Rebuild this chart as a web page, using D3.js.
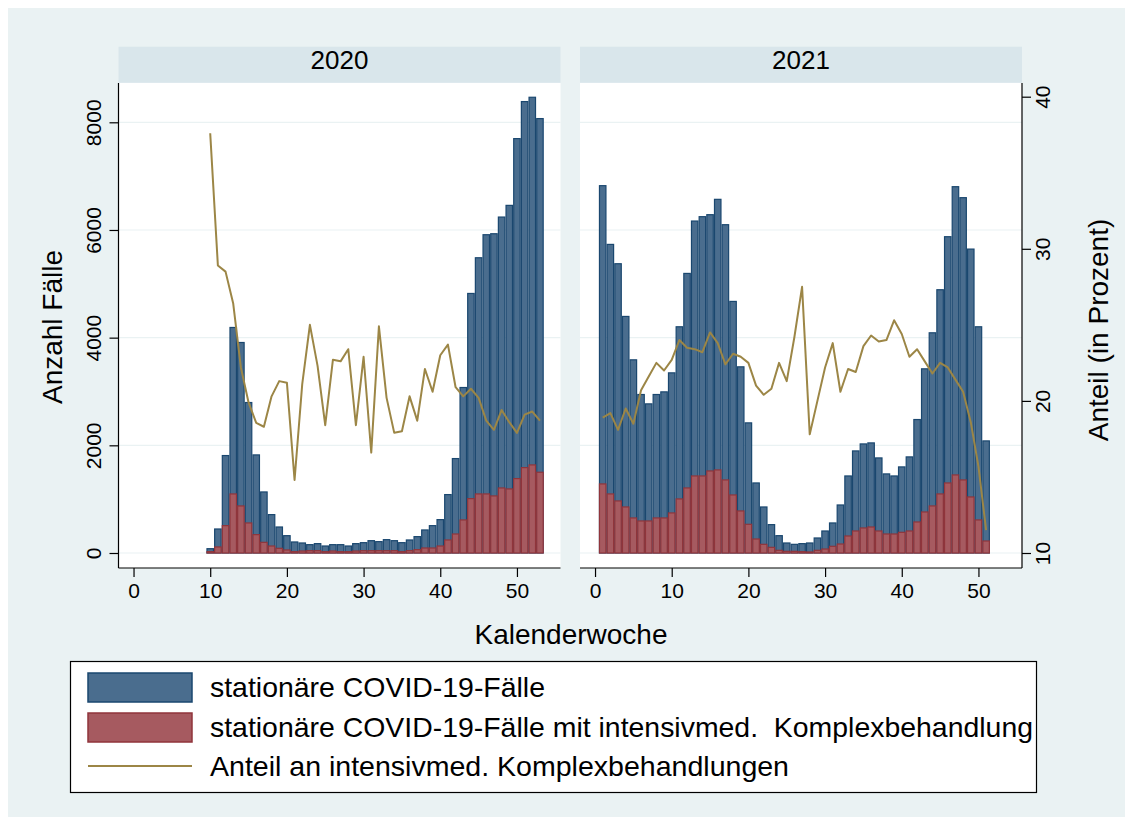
<!DOCTYPE html>
<html>
<head>
<meta charset="utf-8">
<script src="https://cdn.jsdelivr.net/npm/d3@7"></script>
<style>
  body { margin: 0; background: #fff; }
  svg text { font-family: "Liberation Sans", Arial, sans-serif; fill: #000; white-space: pre; }
</style>
</head>
<body>
<svg id="chart" width="1133" height="825"></svg>
<script>
// calendar weeks
var weeks2020 = d3.range(10, 54);
var weeks2021 = d3.range(1, 52);

// hospitalised COVID-19 cases per week
var cases2020 = [80, 446, 1810, 4189, 3910, 2795, 1822, 1134, 713, 483, 322, 205, 186, 155, 174, 130, 155, 155, 130, 174,
  192, 229, 211, 248, 229, 192, 242, 304, 428, 508, 620, 1085, 1754, 3074, 4821, 5484, 5912, 5930, 6240, 6457,
  7697, 8385, 8465, 8069];
var cases2021 = [6823, 5732, 5373, 4394, 3588, 2944, 2770, 2944, 2993, 3346, 4202, 5193, 6166, 6247, 6284, 6569, 6098,
  4673, 3458, 2417, 1301, 855, 527, 322, 186, 161, 174, 186, 279, 409, 558, 892, 1431, 1896, 2026, 2045, 1766,
  1469, 1431, 1599, 1785, 2479, 3421, 4090, 4890, 5875, 6804, 6600, 5645, 4202, 2082];

// of which with intensive-care complex treatment
var icu2020 = [25, 112, 508, 1097, 874, 558, 341, 198, 130, 87, 56, 25, 37, 43, 43, 25, 37, 25, 25, 37,
  43, 43, 43, 43, 43, 25, 43, 62, 93, 93, 130, 242, 353, 614, 1010, 1097, 1097, 1060, 1208, 1190,
  1382, 1586, 1636, 1500];
var icu2021 = [1283, 1097, 967, 855, 651, 595, 595, 651, 651, 744, 1004, 1208, 1431, 1431, 1524, 1543, 1357,
  1078, 781, 533, 260, 161, 105, 50, 31, 31, 25, 19, 50, 74, 124, 167, 316, 409, 465, 483, 409,
  353, 353, 384, 409, 576, 762, 874, 1097, 1301, 1450, 1357, 1041, 614, 223];

// share with ICU treatment (percent)
var share2020 = [37.6, 28.9, 28.5, 26.4, 22.2, 19.9, 18.55, 18.3, 20.3, 21.3, 21.2, 14.8, 21.1, 25.0, 22.3, 18.4, 22.7,
  22.6, 23.4, 18.4, 22.9, 16.6, 24.9, 20.2, 17.9, 18.0, 20.3, 18.7, 22.1, 20.6, 23.0, 23.7, 20.9, 20.3, 20.8,
  20.2, 18.7, 18.1, 19.4, 18.6, 17.9, 19.1, 19.3, 18.7];
var share2021 = [18.9, 19.2, 18.1, 19.5, 18.5, 20.7, 21.6, 22.5, 22.0, 22.7, 24.0, 23.5, 23.4, 23.2, 24.5, 23.8, 22.4,
  23.1, 22.9, 22.5, 21.0, 20.4, 20.8, 22.5, 21.3, 24.2, 27.5, 17.8, 20.0, 22.2, 23.8, 20.6, 22.1, 21.9, 23.6,
  24.3, 23.9, 24.0, 25.3, 24.4, 22.9, 23.4, 22.6, 21.8, 22.5, 22.2, 21.4, 20.6, 18.6, 15.7, 11.5];

var yearLabels = ["2020", "2021"];
var xTicks = [0, 10, 20, 30, 40, 50];
var yTicks = [0, 2000, 4000, 6000, 8000];
var shareTicks = [10, 20, 30, 40];
var legendLabels = ["stationäre COVID-19-Fälle",
  "stationäre COVID-19-Fälle mit intensivmed.  Komplexbehandlung",
  "Anteil an intensivmed. Komplexbehandlungen"];

var COLORS = {
  bg: "#eaf2f3", strip: "#d9e6eb", grid: "#eaf2f3",
  blueFill: "#4a6d8e", blueLine: "#1a476f",
  redFill: "#a65a60", redLine: "#90353b",
  share: "#9c8646"
};

var svg = d3.select("#chart");
svg.append("rect").attr("x", 8).attr("y", 8).attr("width", 1117).attr("height", 809).attr("fill", COLORS.bg);

var PLOT_TOP = 83, PLOT_BOTTOM = 568, PANEL_W = 442;
var panels = [
  { left: 118.5, year: yearLabels[0], weeks: weeks2020, cases: cases2020, icu: icu2020, share: share2020 },
  { left: 580, year: yearLabels[1], weeks: weeks2021, cases: cases2021, icu: icu2021, share: share2021 }
];

var y = d3.scaleLinear().domain([0, 8000]).range([553, 122.3]);
var yShare = d3.scaleLinear().domain([10, 40]).range([553, 96.7]);

function styleTicks(sel) {
    sel.selectAll(".tick line").attr("stroke", "#000").attr("stroke-width", 1.2);
    sel.selectAll(".tick text").attr("font-family", null).attr("fill", "#000").style("font-size", "21px");
}

panels.forEach(function (p, pi) {
    var x = d3.scaleLinear().domain([-1.96, 55.68]).range([p.left, p.left + PANEL_W]);
    var g = svg.append("g");

    // strip
    g.append("rect").attr("x", p.left).attr("y", 46.7).attr("width", PANEL_W).attr("height", 36)
     .attr("fill", COLORS.strip);
    g.append("text").attr("x", p.left + PANEL_W / 2).attr("y", 59.5)
     .attr("text-anchor", "middle").attr("dominant-baseline", "central")
     .style("font-size", "26px").text(p.year);

    // plot area
    g.append("rect").attr("x", p.left).attr("y", PLOT_TOP).attr("width", PANEL_W)
     .attr("height", PLOT_BOTTOM - PLOT_TOP).attr("fill", "#fff");

    // gridlines
    g.selectAll(".grid").data(yTicks).enter().append("line")
     .attr("x1", p.left).attr("x2", p.left + PANEL_W)
     .attr("y1", function (d) { return y(d); }).attr("y2", function (d) { return y(d); })
     .attr("stroke", COLORS.grid).attr("stroke-width", 1.2);

    var bw = x(1) - x(0);
    // total cases
    g.selectAll(".bar").data(p.cases).enter().append("rect")
     .attr("x", function (d, i) { return x(p.weeks[i]) - bw / 2 + 0.6; })
     .attr("width", bw - 1.2)
     .attr("y", function (d) { return y(d); })
     .attr("height", function (d) { return y(0) - y(d); })
     .attr("fill", COLORS.blueFill).attr("stroke", COLORS.blueLine).attr("stroke-width", 1.2);
    // ICU cases
    g.selectAll(".icu").data(p.icu).enter().append("rect")
     .attr("x", function (d, i) { return x(p.weeks[i]) - bw / 2 + 0.6; })
     .attr("width", bw - 1.2)
     .attr("y", function (d) { return y(d); })
     .attr("height", function (d) { return y(0) - y(d); })
     .attr("fill", COLORS.redFill).attr("stroke", COLORS.redLine).attr("stroke-width", 1.2);

    // share line
    var line = d3.line()
        .x(function (d, i) { return x(p.weeks[i]); })
        .y(function (d) { return yShare(d); });
    g.append("path").datum(p.share).attr("d", line)
     .attr("fill", "none").attr("stroke", COLORS.share).attr("stroke-width", 2)
     .attr("stroke-linejoin", "round");

    // x axis
    var xAxis = d3.axisBottom(x).tickValues(xTicks).tickSize(9).tickPadding(6).tickSizeOuter(0);
    var ax = g.append("g").attr("transform", "translate(0," + PLOT_BOTTOM + ")").call(xAxis);
    ax.select(".domain").attr("d", "M" + p.left + ",0H" + (p.left + PANEL_W)).attr("stroke", "#000").attr("stroke-width", 1.2);
    styleTicks(ax);

    if (pi === 0) {
        var yAxis = d3.axisLeft(y).tickValues(yTicks).tickSize(9).tickSizeOuter(0).tickFormat(d3.format("d"));
        var ay = g.append("g").attr("transform", "translate(" + p.left + ",0)").call(yAxis);
        ay.select(".domain").attr("d", "M0," + PLOT_TOP + "V" + PLOT_BOTTOM).attr("stroke", "#000").attr("stroke-width", 1.2);
        styleTicks(ay);
        ay.selectAll(".tick text").attr("x", null).attr("dy", null)
          .attr("transform", "translate(-25,0) rotate(-90)")
          .attr("text-anchor", "middle").attr("dominant-baseline", "central");
    } else {
        var rAxis = d3.axisRight(yShare).tickValues(shareTicks).tickSize(9).tickSizeOuter(0);
        var ar = g.append("g").attr("transform", "translate(" + (p.left + PANEL_W) + ",0)").call(rAxis);
        ar.select(".domain").attr("d", "M0," + PLOT_TOP + "V" + PLOT_BOTTOM).attr("stroke", "#000").attr("stroke-width", 1.2);
        styleTicks(ar);
        ar.selectAll(".tick text").attr("x", null).attr("dy", null)
          .attr("transform", "translate(20,0) rotate(-90)")
          .attr("text-anchor", "middle").attr("dominant-baseline", "central");
    }
});

// axis titles
svg.append("text").attr("transform", "translate(52,327) rotate(-90)")
   .attr("text-anchor", "middle").attr("dominant-baseline", "central")
   .style("font-size", "28px").text("Anzahl Fälle");
svg.append("text").attr("transform", "translate(1098,330) rotate(-90)")
   .attr("text-anchor", "middle").attr("dominant-baseline", "central")
   .style("font-size", "28px").text("Anteil (in Prozent)");
svg.append("text").attr("x", 571).attr("y", 634)
   .attr("text-anchor", "middle").attr("dominant-baseline", "central")
   .style("font-size", "28px").text("Kalenderwoche");

// legend
var lg = svg.append("g");
lg.append("rect").attr("x", 70.5).attr("y", 661.5).attr("width", 966).attr("height", 131)
  .attr("fill", "#fff").attr("stroke", "#000").attr("stroke-width", 1.2);
var rowY = [687, 727, 766];
var textW = [335, 823, 579];
lg.append("rect").attr("x", 88).attr("y", 673).attr("width", 104).attr("height", 29)
  .attr("fill", COLORS.blueFill).attr("stroke", COLORS.blueLine).attr("stroke-width", 1.5);
lg.append("rect").attr("x", 88).attr("y", 713).attr("width", 104).attr("height", 29)
  .attr("fill", COLORS.redFill).attr("stroke", COLORS.redLine).attr("stroke-width", 1.5);
lg.append("line").attr("x1", 88).attr("x2", 192).attr("y1", 766).attr("y2", 766)
  .attr("stroke", COLORS.share).attr("stroke-width", 2);
lg.selectAll(".lt").data(legendLabels).enter().append("text")
  .attr("x", 210).attr("y", function (d, i) { return rowY[i]; })
  .attr("dominant-baseline", "central")
  .attr("textLength", function (d, i) { return textW[i]; })
  .attr("lengthAdjust", "spacingAndGlyphs")
  .style("font-size", "28px").text(function (d) { return d; });
</script>
</body>
</html>
